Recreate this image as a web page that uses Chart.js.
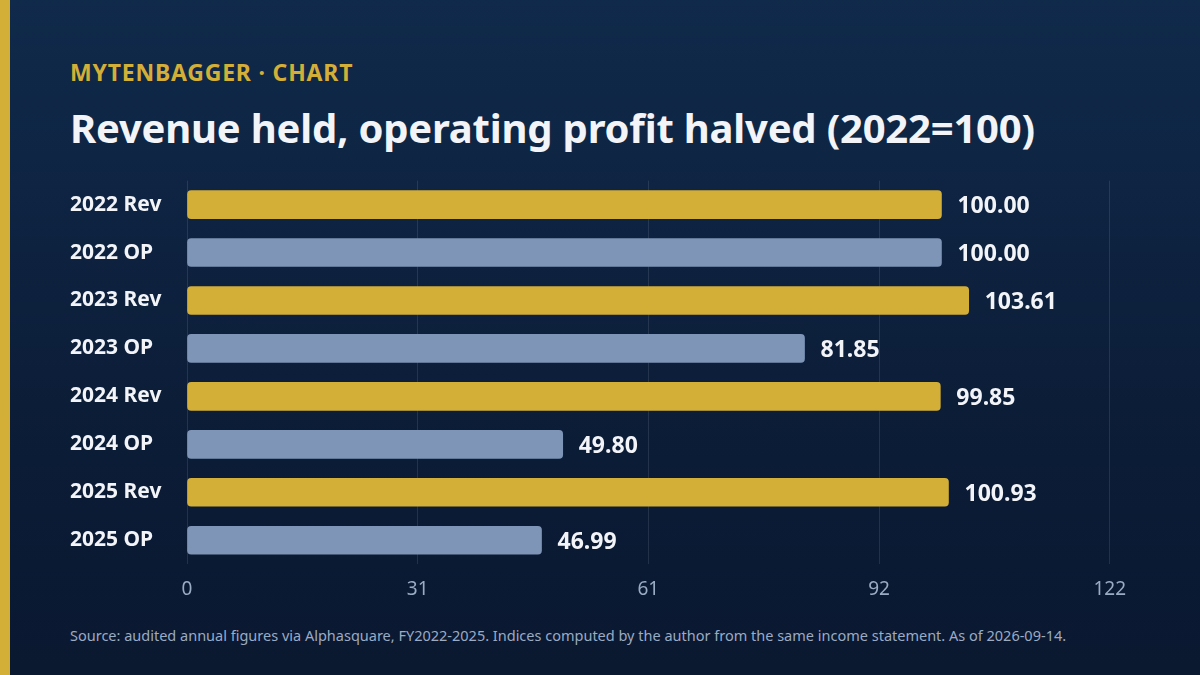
<!DOCTYPE html>
<html>
<head>
<meta charset="utf-8">
<script src="https://cdn.jsdelivr.net/npm/chart.js@4/dist/chart.umd.min.js"></script>
<style>
  html, body { margin: 0; padding: 0; }
  body {
    width: 1200px; height: 675px; overflow: hidden; position: relative;
    background: linear-gradient(180deg, #102a4b 0%, #0c1d38 60%, #0a1830 100%);
    font-family: "Source Sans Pro", "Noto Sans", "Open Sans", sans-serif;
  }
  .stripe { position: absolute; left: 0; top: 0; width: 10px; height: 675px; background: #d4af37; }
  .kicker { position: absolute; left: 70px; top: 56px; color: #d4af37; font-size: 23px; font-weight: 700; letter-spacing: 0.8px; }
  .title { position: absolute; left: 70px; top: 100px; color: #f2f4f8; font-size: 40px; font-weight: 700; letter-spacing: -0.2px; }
  .source { position: absolute; left: 70px; top: 625px; color: #9aabc4; font-size: 14.5px; }
  .wrap { position: absolute; left: 70px; top: 168px; width: 1070px; height: 447px; }
</style>
</head>
<body>
<div class="stripe"></div>
<div class="kicker">MYTENBAGGER · CHART</div>
<div class="title">Revenue held, operating profit halved (2022=100)</div>
<div class="wrap"><canvas id="c"></canvas></div>
<div class="source">Source: audited annual figures via Alphasquare, FY2022-2025. Indices computed by the author from the same income statement. As of 2026-09-14.</div>
<script>
let categories = ["2022 Rev", "2022 OP", "2023 Rev", "2023 OP", "2024 Rev", "2024 OP", "2025 Rev", "2025 OP"];
let indexValues = [100.00, 100.00, 103.61, 81.85, 99.85, 49.80, 100.93, 46.99];
let axisMax = 122.3;

let gold = "#d4af37";
let slate = "#7f95b8";
let barColors = categories.map(c => c.endsWith("Rev") ? gold : slate);

// value labels at the end of each bar
let valueLabels = {
  id: "valueLabels",
  afterDatasetsDraw(chart) {
    let ctx = chart.ctx;
    let meta = chart.getDatasetMeta(0);
    ctx.save();
    ctx.fillStyle = "#f2f4f8";
    ctx.font = "700 23px 'Source Sans Pro', 'Noto Sans', sans-serif";
    ctx.textBaseline = "middle";
    meta.data.forEach((bar, i) => {
      ctx.fillText(indexValues[i].toFixed(2), bar.x + 16, bar.y + 2);
    });
    ctx.restore();
  }
};

new Chart(document.getElementById("c"), {
  type: "bar",
  data: {
    labels: categories,
    datasets: [{
      data: indexValues,
      backgroundColor: barColors,
      borderRadius: 4,
      borderSkipped: false,
      barThickness: 28
    }]
  },
  options: {
    indexAxis: "y",
    responsive: true,
    maintainAspectRatio: false,
    animation: false,
    layout: { padding: { right: 30 } },
    plugins: { legend: { display: false }, tooltip: { enabled: false } },
    scales: {
      x: {
        min: 0,
        max: axisMax,
        afterBuildTicks(axis) {
          axis.ticks = [0, 1, 2, 3, 4].map(i => ({ value: axisMax * i / 4 }));
        },
        grid: { color: "rgba(255,255,255,0.10)", drawTicks: false },
        border: { display: false },
        ticks: {
          color: "#9aabc4",
          font: { size: 19, family: "'Source Sans Pro', 'Noto Sans', sans-serif" },
          padding: 14,
          callback: v => Math.round(v)
        }
      },
      y: {
        afterFit(axis) { axis.width = 117; },
        grid: { display: false },
        border: { display: false },
        ticks: {
          color: "#f2f4f8",
          crossAlign: "far",
          padding: 0,
          font: { size: 21, weight: "700", family: "'Source Sans Pro', 'Noto Sans', sans-serif" }
        }
      }
    }
  },
  plugins: [valueLabels]
});
</script>
</body>
</html>
